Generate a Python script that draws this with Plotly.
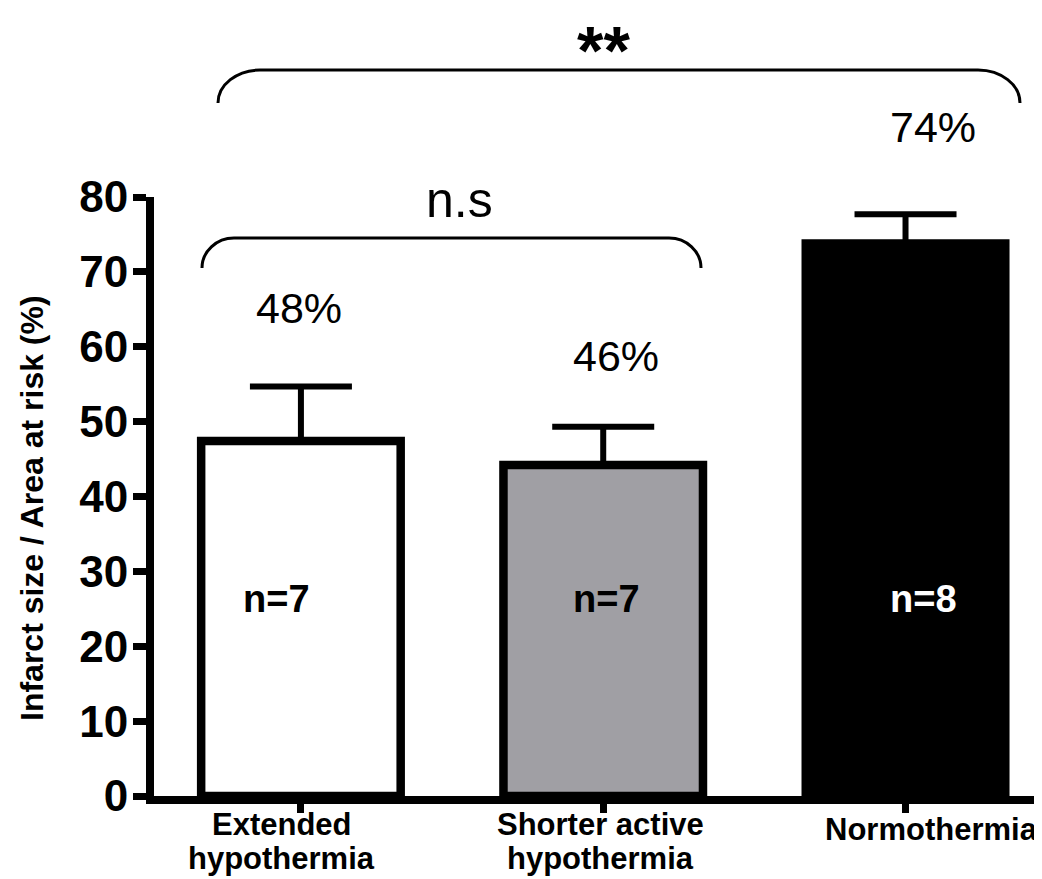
import plotly.graph_objects as go

# ---- data ----
categories = ["Extended<br>hypothermia", "Shorter active<br>hypothermia", "Normothermia"]
means = [47.4, 44.2, 73.8]
sem = [7.3, 5.1, 3.9]
pct_labels = ["48%", "46%", "74%"]
n_labels = ["n=7", "n=7", "n=8"]
bar_colors = ["#ffffff", "#a09fa4", "#000000"]
n_colors = ["#000000", "#000000", "#ffffff"]
y_ticks = [0, 10, 20, 30, 40, 50, 60, 70, 80]

# page has an 8px body margin, so figure is drawn 8px smaller and offset
OFF = 8
W, H = 1042 - OFF, 879 - OFF
ML, MR, MT, MB = 146, 0, 189, 83
PW = W - ML - MR
PH = H - MT - MB
XR = [-0.486, -0.486 + PW / 302.3]
YR = [0, 80]
FONT = "Liberation Sans, Arial, sans-serif"


def px_x(xd):
    return (xd - XR[0]) / (XR[1] - XR[0])


def pxp(xpix):
    return (xpix - OFF - ML) / PW


def py(ypix):
    return (H - MB - (ypix - OFF)) / PH


fig = go.Figure()
fig.add_trace(go.Bar(
    x=[0, 1, 2], y=means, width=0.66,
    marker=dict(color=bar_colors, line=dict(color="black", width=8.5)),
    error_y=dict(type="data", symmetric=False, array=sem,
                 arrayminus=[0, 0, 0], color="black", thickness=6, width=51),
    showlegend=False,
))

annotations = []
# percent labels
pct_y = [308, 356, 127]
pct_shift = [-2, 13, 27]
for i, lab in enumerate(pct_labels):
    annotations.append(dict(x=px_x(i), y=py(pct_y[i]), xref="paper", yref="paper",
                            xanchor="center", yanchor="middle",
                            text=lab, showarrow=False, xshift=pct_shift[i],
                            font=dict(family=FONT, size=43, color="black")))
# n labels
n_shift = [-24, 3, 18]
for i, lab in enumerate(n_labels):
    annotations.append(dict(x=px_x(i), y=py(599), xref="paper", yref="paper",
                            xanchor="center", yanchor="middle",
                            text=lab, showarrow=False, xshift=n_shift[i],
                            font=dict(family=FONT, size=38, color=n_colors[i], weight="bold")))
# category labels (each line placed separately for tight line spacing)
cat_shift = [-19, -3, 26]
for i, lab in enumerate(categories):
    lines = lab.split("<br>")
    ys = [824, 858] if len(lines) == 2 else [829]
    for line, yy in zip(lines, ys):
        annotations.append(dict(x=px_x(i), y=py(yy), xref="paper", yref="paper",
                                xanchor="center", yanchor="middle",
                                text=line, showarrow=False, xshift=cat_shift[i],
                                font=dict(family=FONT, size=31, color="black", weight="bold")))
# y title
annotations.append(dict(x=pxp(32), y=py(508), xref="paper", yref="paper",
                        xanchor="center", yanchor="middle",
                        text="Infarct size / Area at risk (%)", textangle=-90,
                        showarrow=False,
                        font=dict(family=FONT, size=32, color="black", weight="bold")))
# significance labels
annotations.append(dict(x=pxp(459), y=py(200), xref="paper", yref="paper",
                        xanchor="center", yanchor="middle",
                        text="n.s", showarrow=False,
                        font=dict(family=FONT, size=50, color="black")))
annotations.append(dict(x=pxp(603), y=py(50), xref="paper", yref="paper",
                        xanchor="center", yanchor="middle",
                        text="**", showarrow=False,
                        font=dict(family=FONT, size=68, color="black", weight="bold")))


def bracket(x0, x1, ytop, yend, r):
    X0, X1 = pxp(x0), pxp(x1)
    dx = r / PW
    Yt, Ye = py(ytop), py(yend)
    k = 0.45
    return (f"M {X0},{Ye} C {X0},{Yt - (Yt - Ye) * k} {X0 + dx * k},{Yt} {X0 + dx},{Yt} "
            f"L {X1 - dx},{Yt} C {X1 - dx * k},{Yt} {X1},{Yt - (Yt - Ye) * k} {X1},{Ye}")


shapes = [
    dict(type="path", xref="paper", yref="paper", path=bracket(202, 701, 238, 268, 32),
         line=dict(color="black", width=3)),
    dict(type="path", xref="paper", yref="paper", path=bracket(218, 1020, 70, 103, 42),
         line=dict(color="black", width=3)),
]

fig.update_layout(
    width=W, height=H, margin=dict(l=ML, r=MR, t=MT, b=MB),
    plot_bgcolor="white", paper_bgcolor="white",
    annotations=annotations, shapes=shapes,
    xaxis=dict(range=XR, showgrid=False, zeroline=False, showline=True, linecolor="black",
               linewidth=8, ticks="outside", ticklen=9, tickwidth=7, tickcolor="black",
               tickvals=[0, 1, 2], showticklabels=False),
    yaxis=dict(range=YR, showgrid=False, zeroline=False, showline=True, linecolor="black",
               linewidth=8, ticks="outside", ticklen=13, tickwidth=7, tickcolor="black",
               tickvals=y_ticks, ticktext=[str(v) for v in y_ticks], ticklabelstandoff=-4,
               tickfont=dict(family=FONT, size=44, color="black", weight="bold")),
)

fig.write_html("out.html")
